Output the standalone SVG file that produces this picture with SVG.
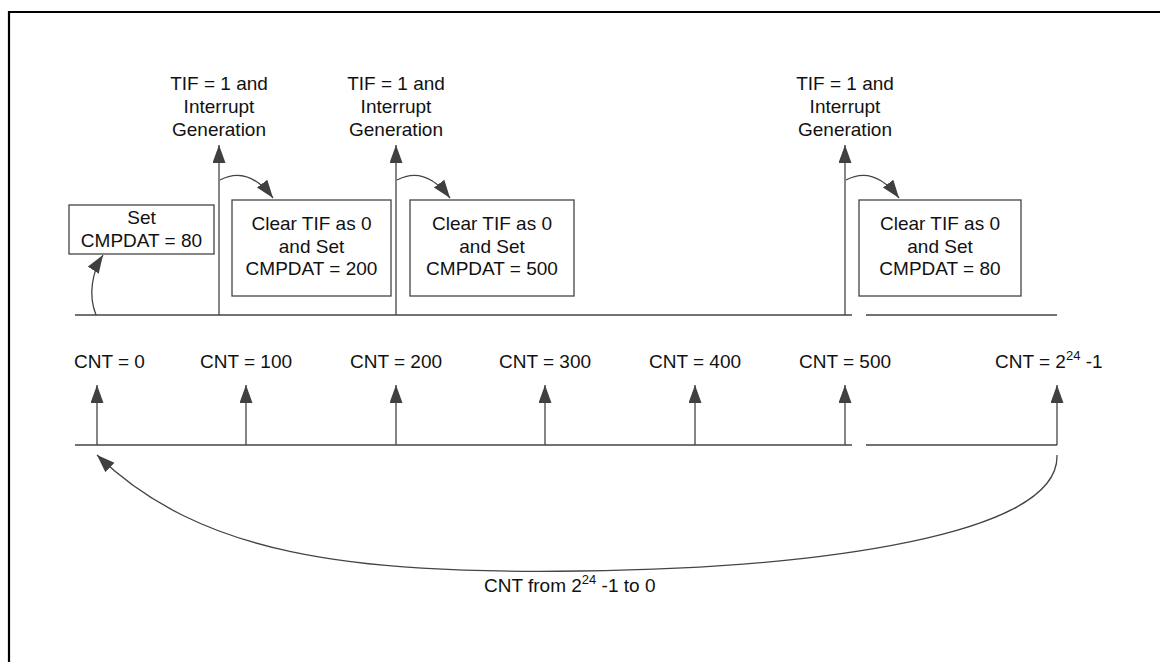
<svg xmlns="http://www.w3.org/2000/svg" width="1160" height="662" viewBox="0 0 1160 662">
<style>
  text { font-family: "Liberation Sans", Arial, sans-serif; font-size: 19px; fill: #111; }
  .c { text-anchor: middle; }
  .ln { stroke: #444; stroke-width: 1.3; fill: none; }
  .box { fill: #fff; stroke: #444; stroke-width: 1.3; }
  .arr { stroke: #444; stroke-width: 1.3; fill: none; marker-end: url(#ah); }
  .sup { font-size: 13px; }
</style>
<defs>
  <marker id="ah" markerUnits="userSpaceOnUse" markerWidth="20" markerHeight="14" refX="18" refY="6.5" orient="auto">
    <path d="M0,0 L18,6.5 L0,13 z" fill="#404040"/>
  </marker>
</defs>
<rect width="1160" height="662" fill="#fff"/>
<path d="M9,670 V12 H1170" fill="none" stroke="#000" stroke-width="2.2"/>

<g id="connectors">
  <path class="ln" d="M75,315 H852 M866,315 H1057"/>
  <path class="ln" d="M75,445 H852 M866,445 H1057"/>
  <path class="arr" d="M97,445 V385"/>
  <path class="arr" d="M246,445 V385"/>
  <path class="arr" d="M396,445 V385"/>
  <path class="arr" d="M545,445 V385"/>
  <path class="arr" d="M695,445 V385"/>
  <path class="arr" d="M845,445 V385"/>
  <path class="arr" d="M1057,445 V385"/>
  <path class="arr" d="M219,315 V145"/>
  <path class="arr" d="M396,315 V145"/>
  <path class="arr" d="M845,315 V145"/>
  <path class="arr" d="M220,180 Q248,165 273,198"/>
  <path class="arr" d="M397,180 Q425,165 450,198"/>
  <path class="arr" d="M846,180 Q874,165 899,198"/>
  <path class="arr" d="M96,315 C88,295 92,272 103,255"/>
  <path class="arr" d="M1057,455 C1060,535 820,568 580,571 C350,574 200,555 97,455"/>
</g>

<g id="top-label-1"><text class="c" x="219" y="90">TIF = 1 and</text><text class="c" x="219" y="113">Interrupt</text><text class="c" x="219" y="136">Generation</text></g>
<g id="top-label-2"><text class="c" x="396" y="90">TIF = 1 and</text><text class="c" x="396" y="113">Interrupt</text><text class="c" x="396" y="136">Generation</text></g>
<g id="top-label-3"><text class="c" x="845" y="90">TIF = 1 and</text><text class="c" x="845" y="113">Interrupt</text><text class="c" x="845" y="136">Generation</text></g>

<g id="box-set80"><rect class="box" x="69" y="205" width="145" height="49"/><text class="c" x="141.5" y="224">Set</text><text class="c" x="141.5" y="247">CMPDAT = 80</text></g>
<g id="box-200"><rect class="box" x="232" y="200" width="159" height="96"/><text class="c" x="311.5" y="230">Clear TIF as 0</text><text class="c" x="311.5" y="253">and Set</text><text class="c" x="311.5" y="275">CMPDAT = 200</text></g>
<g id="box-500"><rect class="box" x="410" y="200" width="164" height="96"/><text class="c" x="492" y="230">Clear TIF as 0</text><text class="c" x="492" y="253">and Set</text><text class="c" x="492" y="275">CMPDAT = 500</text></g>
<g id="box-80"><rect class="box" x="859" y="200" width="162" height="96"/><text class="c" x="940" y="230">Clear TIF as 0</text><text class="c" x="940" y="253">and Set</text><text class="c" x="940" y="275">CMPDAT = 80</text></g>

<g id="cnt-labels">
  <text x="74" y="368">CNT = 0</text>
  <text class="c" x="246" y="368">CNT = 100</text>
  <text class="c" x="396" y="368">CNT = 200</text>
  <text class="c" x="545" y="368">CNT = 300</text>
  <text class="c" x="695" y="368">CNT = 400</text>
  <text class="c" x="845" y="368">CNT = 500</text>
  <text x="995" y="368">CNT = 2<tspan class="sup" dy="-8">24</tspan><tspan dy="8"> -1</tspan></text>
</g>
<g id="wrap-label"><text x="484" y="592">CNT from 2<tspan class="sup" dy="-8">24</tspan><tspan dy="8"> -1 to 0</tspan></text></g>
</svg>
